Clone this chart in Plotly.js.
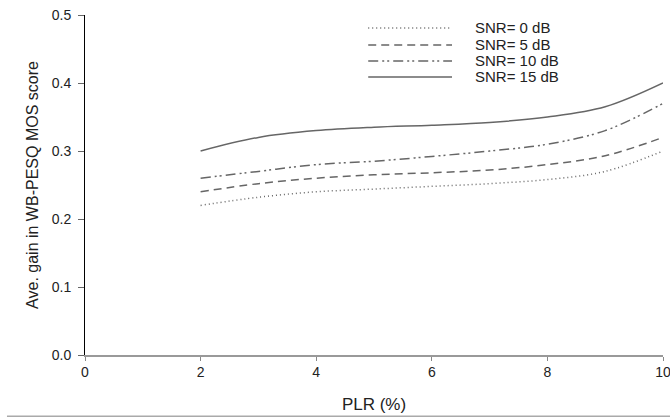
<!DOCTYPE html>
<html>
<head>
<meta charset="utf-8">
<script src="https://cdn.plot.ly/plotly-3.0.1.min.js"></script>
<style>html,body{margin:0;padding:0;background:#fff}#chart{width:670px;height:417px}</style>
</head>
<body>
<div id="chart"></div>
<script>
const plr = [2, 3, 4, 5, 6, 7, 8, 9, 10];
const snr0  = [0.22, 0.232, 0.240, 0.244, 0.248, 0.252, 0.258, 0.270, 0.30];
const snr5  = [0.24, 0.252, 0.260, 0.265, 0.268, 0.272, 0.280, 0.293, 0.32];
const snr10 = [0.26, 0.270, 0.280, 0.285, 0.292, 0.300, 0.310, 0.330, 0.37];
const snr15 = [0.30, 0.320, 0.330, 0.335, 0.338, 0.342, 0.350, 0.365, 0.40];
const names = ['SNR= 0 dB', 'SNR= 5 dB', 'SNR= 10 dB', 'SNR= 15 dB'];
const series = [snr0, snr5, snr10, snr15];
const dashes = ['1px,3px', '8px,5px', '10px,4px,2px,3px,2px,4px', 'solid'];
const lineColor = '#666';

const traces = series.map((s, i) => ({
  x: plr, y: s, name: names[i], type: 'scatter', mode: 'lines',
  line: {color: lineColor, width: 1.5, dash: dashes[i], shape: 'spline', smoothing: 1}
}));

const font = {family: 'Liberation Sans, Arial, sans-serif', color: '#222'};
const f = (size) => Object.assign({size: size}, font);

// Hand-laid legend (paper coordinates) to match the original's compact spacing
const legX0 = 0.49, legX1 = 0.635, legTextX = 0.672;
const legY = [0.962, 0.912, 0.865, 0.818];
const shapes = [];
const annotations = [];
names.forEach((n, i) => {
  shapes.push({type: 'line', xref: 'paper', yref: 'paper', x0: legX0, x1: legX1, y0: legY[i], y1: legY[i],
               line: {color: lineColor, width: 1.5, dash: dashes[i]}});
  annotations.push({xref: 'paper', yref: 'paper', x: legTextX, y: legY[i], xanchor: 'left', yanchor: 'middle',
                    text: n, showarrow: false, font: f(15)});
});
// bottom rule of the figure
shapes.push({type: 'line', xref: 'paper', yref: 'paper', x0: -0.135, x1: 1.02, y0: -0.18, y1: -0.18,
             line: {color: '#aaa', width: 1.5}});

const layout = {
  width: 670, height: 417,
  margin: {l: 85, r: 7, t: 15, b: 62},
  paper_bgcolor: '#fff', plot_bgcolor: '#fff',
  font: f(14),
  showlegend: false,
  xaxis: {range: [0, 10], tickvals: [0, 2, 4, 6, 8, 10], showgrid: false, zeroline: false,
          showline: true, linecolor: '#999', linewidth: 1.5, ticks: 'outside', ticklen: 4,
          tickcolor: '#888', tickfont: f(14), ticklabeloverflow: 'allow',
          title: {text: 'PLR (%)', font: f(17), standoff: 19}},
  yaxis: {range: [0, 0.5], tickvals: [0, 0.1, 0.2, 0.3, 0.4, 0.5], tickformat: '.1f',
          showgrid: false, zeroline: false, showline: true, linecolor: '#000', linewidth: 1,
          ticks: 'outside', ticklen: 6, tickcolor: '#666', tickfont: f(14), ticklabelstandoff: 4,
          title: {text: 'Ave. gain in WB-PESQ MOS score', font: f(16), standoff: 9}},
  shapes: shapes,
  annotations: annotations
};
Plotly.newPlot('chart', traces, layout, {displayModeBar: false, staticPlot: true});
</script>
</body>
</html>
